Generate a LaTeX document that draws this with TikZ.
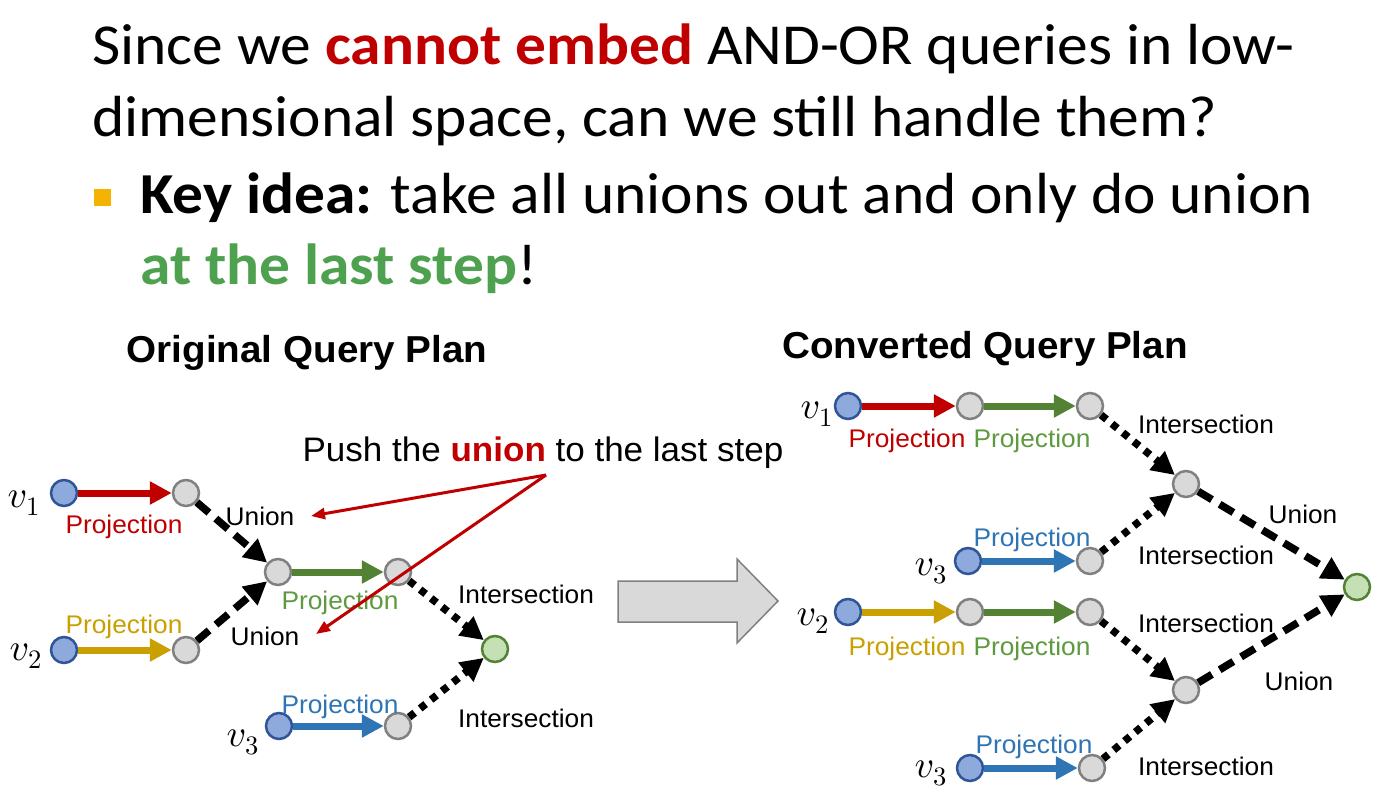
\documentclass[tikz,border=0pt]{standalone}
\usepackage{fontspec}
\setmainfont{Carlito}[FakeStretch=1.06]
\newfontfamily\arial{Liberation Sans}[FakeStretch=1.03]
\DeclareFontShape{OML}{cmm}{m}{it}{<-> cmmi10}{}
\DeclareFontShape{OT1}{cmr}{m}{n}{<-> cmr10}{}
\usetikzlibrary{arrows.meta}
\definecolor{tred}{HTML}{C00000}
\definecolor{tgreen}{HTML}{4EA14E}
\definecolor{bul}{HTML}{F5B301}
\definecolor{vblue}{HTML}{2F5597}
\definecolor{vfill}{HTML}{8EA9DB}
\definecolor{gborder}{HTML}{808080}
\definecolor{gfill}{HTML}{D9D9D9}
\definecolor{fborder}{HTML}{548235}
\definecolor{ffill}{HTML}{C5E0B4}
\definecolor{pred}{HTML}{C00000}
\definecolor{pyel}{HTML}{C9A000}
\definecolor{pgreen}{HTML}{548235}
\definecolor{pblue}{HTML}{2E75B6}
\definecolor{tyel}{HTML}{C9A000}
\definecolor{tgr}{HTML}{5E9A3E}
\definecolor{tbl}{HTML}{2E75B6}
\begin{document}
\begin{tikzpicture}[x=1pt,y=-1pt,
  vnode/.style={circle,draw=vblue,fill=vfill,line width=2.5pt,minimum size=26pt,inner sep=0pt},
  gnode/.style={circle,draw=gborder,fill=gfill,line width=2.5pt,minimum size=26pt,inner sep=0pt},
  fnode/.style={circle,draw=fborder,fill=ffill,line width=2.5pt,minimum size=26pt,inner sep=0pt},
  proj/.style={line width=7pt,-{Triangle[length=22pt,width=22pt]}},
  uni/.style={line width=7.5pt,dash pattern=on 16pt off 9pt,-{Triangle[length=23pt,width=23pt]}},
  inter/.style={line width=7.5pt,dash pattern=on 7pt off 7pt,-{Triangle[length=23pt,width=23pt]}},
  lab/.style={font=\arial\fontsize{25.5}{28}\selectfont,anchor=base,inner sep=0pt},
  head/.style={font=\arial\bfseries\fontsize{37.5}{40}\selectfont,anchor=base,inner sep=0pt},
  vlab/.style={font=\fontsize{38}{40}\selectfont,anchor=base east,inner sep=0pt},
  title/.style={font=\fontsize{58}{62}\selectfont,anchor=base west,inner sep=0pt},
  push/.style={draw=pred,line width=3pt,-{Triangle[length=14pt,width=11pt]}},
  bullet/.style={fill=bul,minimum size=17pt,inner sep=0pt},
]
\useasboundingbox (0,0) rectangle (1400,792);
\fill[white] (0,0) rectangle (1400,792);

% title
\node[title] (t1) at (92,65) {Since we \textcolor{tred}{\textbf{cannot embed}} AND-OR queries in low-};
\node[title] (t2) at (92,136) {dimensional space, can we still handle them?};
\node[bullet] (bl) at (102,197) {};
\node[title] (t3) at (140,213) {\textbf{Key idea:} take all unions out and only do union};
\node[title] (t4) at (140,284) {\textcolor{tgreen}{\textbf{at the last step}}!};

% headings
\node[head] (h1) at (307,362) {Original Query Plan};
\node[head] (h2) at (985,358) {Converted Query Plan};

% ---------- left plan ----------
\node[vnode] (v1) at (64,493) {};
\node[gnode] (a1) at (186,493) {};
\node[vnode] (v2) at (64,650) {};
\node[gnode] (a2) at (186,650) {};
\node[gnode] (u) at (278,572) {};
\node[gnode] (p) at (398,572) {};
\node[fnode] (f) at (495,649) {};
\node[vnode] (v3) at (279,726) {};
\node[gnode] (b3) at (398,726) {};

\node[vlab] (lv1) at (40,507) {$v_1$};
\node[vlab] (lv2) at (42,660) {$v_2$};
\node[vlab] (lv3) at (259,746) {$v_3$};

\draw[proj,pred] (v1) -- (a1);
\draw[proj,pyel] (v2) -- (a2);
\draw[proj,pgreen] (u) -- (p);
\draw[proj,pblue] (v3) -- (b3);
\draw[uni] (a1) -- (u);
\draw[uni] (a2) -- (u);
\draw[inter] (p) -- (f);
\draw[inter] (b3) -- (f);

\node[lab,text=tred] (l1) at (124,533) {Projection};
\node[lab,text=tyel] (l2) at (124,633) {Projection};
\node[lab] (l3) at (260,525) {Union};
\node[lab] (l4) at (265,645) {Union};
\node[lab,text=tgr] (l5) at (340,609) {Projection};
\node[lab,text=tbl] (l6) at (340,713) {Projection};
\node[lab] (l7) at (526,603) {Intersection};
\node[lab] (l8) at (526,727) {Intersection};

\node[font=\arial\fontsize{34}{36}\selectfont,anchor=base,inner sep=0pt] (pt) at (543,461)
  {Push the \textcolor{tred}{\textbf{union}} to the last step};
\coordinate (apex) at (546,475);
\coordinate (e1) at (311,516);
\coordinate (e2) at (316,634);
\draw[push] (apex) -- (e1);
\draw[push] (apex) -- (e2);

% block arrow
\filldraw[fill=gfill,draw=gborder,line width=1.5pt]
  (618,581) -- (737,581) -- (737,559) -- (778,601) -- (737,643) -- (737,622) -- (618,622) -- cycle;

% ---------- right plan ----------
\node[vnode] (r1) at (848,406) {};
\node[gnode] (c1) at (970,406) {};
\node[gnode] (c2) at (1090,406) {};
\node[gnode] (i1) at (1186,484) {};
\node[vnode] (r3) at (968,561) {};
\node[gnode] (d1) at (1090,561) {};
\node[fnode] (f2) at (1357,587) {};
\node[vnode] (r2) at (848,612) {};
\node[gnode] (e1n) at (970,612) {};
\node[gnode] (e2n) at (1090,612) {};
\node[gnode] (i2) at (1186,690) {};
\node[vnode] (r4) at (970,768) {};
\node[gnode] (g1) at (1092,768) {};

\node[vlab] (rv1) at (833,418) {$v_1$};
\node[vlab] (rv3) at (947,575) {$v_3$};
\node[vlab] (rv2) at (829,625) {$v_2$};
\node[vlab] (rv4) at (947,777) {$v_3$};

\draw[proj,pred] (r1) -- (c1);
\draw[proj,pgreen] (c1) -- (c2);
\draw[proj,pblue] (r3) -- (d1);
\draw[proj,pyel] (r2) -- (e1n);
\draw[proj,pgreen] (e1n) -- (e2n);
\draw[proj,pblue] (r4) -- (g1);
\draw[inter] (c2) -- (i1);
\draw[inter] (d1) -- (i1);
\draw[inter] (e2n) -- (i2);
\draw[inter] (g1) -- (i2);
\draw[uni] (i1) -- (f2);
\draw[uni] (i2) -- (f2);

\node[lab,text=tred] (m1) at (907,447) {Projection};
\node[lab,text=tgr] (m2) at (1032,447) {Projection};
\node[lab] (m3) at (1206,433) {Intersection};
\node[lab,text=tbl] (m4) at (1032,546) {Projection};
\node[lab] (m5) at (1206,564) {Intersection};
\node[lab] (m6) at (1303,523) {Union};
\node[lab,text=tyel] (m7) at (907,655) {Projection};
\node[lab,text=tgr] (m8) at (1032,655) {Projection};
\node[lab] (m9) at (1206,632) {Intersection};
\node[lab] (m10) at (1299,690) {Union};
\node[lab,text=tbl] (m11) at (1034,753) {Projection};
\node[lab] (m12) at (1206,775) {Intersection};
\end{tikzpicture}
\end{document}
